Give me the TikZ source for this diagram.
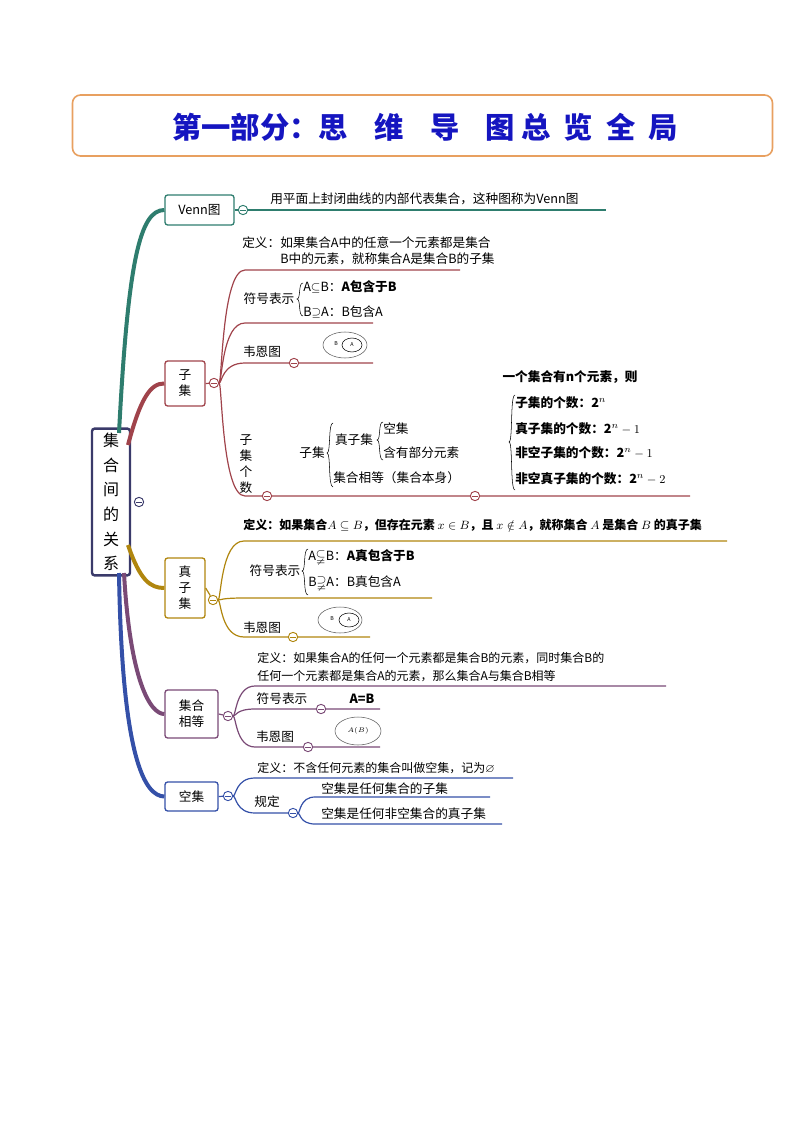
\documentclass[tikz,border=0pt]{standalone}
\usepackage{fontspec}
\setmainfont{Noto Sans CJK SC}
\usepackage{amsmath,amssymb}
\begin{document}
\begin{tikzpicture}[x=0.75pt,y=-0.75pt,
 txt/.style={inner sep=0pt,font=\fontsize{9.5}{12}\selectfont},
 btxt/.style={inner sep=0pt,font=\fontsize{9.5}{12}\selectfont\bfseries},
 bx/.style={draw,line width=1pt,rounded corners=2pt,inner sep=0pt,font=\fontsize{9.5}{12}\selectfont},
 cc/.style={circle,draw,fill=white,inner sep=0pt,minimum size=7pt,line width=0.7pt,path picture={\draw[line width=0.7pt] ([xshift=-2pt]path picture bounding box.center)--([xshift=2pt]path picture bounding box.center);}},
 br/.style={line width=0.9pt},
 trunk/.style={line width=3pt}]
\definecolor{teal}{HTML}{2E7D6E}\definecolor{mar}{HTML}{A0434B}\definecolor{gold}{HTML}{B0860E}
\definecolor{pur}{HTML}{7A4A76}\definecolor{blu}{HTML}{3450A8}\definecolor{navy}{HTML}{3A3A6A}
\definecolor{tb}{HTML}{1515C0}\definecolor{org}{HTML}{E8A060}
\useasboundingbox (0,0) rectangle (794,1123);
% title
\node[draw=org,line width=1.2pt,rounded corners=6pt,minimum width=700*0.75pt,minimum height=61*0.75pt] (title) at (422.5,125.5) {};
\node[text=tb,font=\fontsize{22}{24}\selectfont\bfseries] (tt) at (425,127) {第一部分：思\hspace{0.9em}维\hspace{0.9em}导\hspace{0.9em}图\hspace{0.2em}总\hspace{0.45em}览\hspace{0.45em}全\hspace{0.45em}局};
% root
\node[draw=navy,line width=1.8pt,rounded corners=2pt,minimum width=38*0.75pt,minimum height=139*0.75pt,align=center,font=\fontsize{12}{18.5}\selectfont] (root) at (111,502) {集\\合\\间\\的\\关\\系};
\node[cc,draw=navy] (rc) at (139,502) {};
% boxes
\node[bx,draw=teal,minimum width=69*0.75pt,minimum height=30*0.75pt] (venn) at (199.5,210) {Venn图};
\node[bx,draw=mar,minimum width=40*0.75pt,minimum height=45*0.75pt,align=center] (zj) at (185,383.5) {子\\集};
\node[bx,draw=gold,minimum width=40*0.75pt,minimum height=60*0.75pt,align=center] (zzj) at (185,588) {真\\子\\集};
\node[bx,draw=pur,minimum width=53*0.75pt,minimum height=48*0.75pt,align=center] (xd) at (191.5,714) {集合\\相等};
\node[bx,draw=blu,minimum width=53*0.75pt,minimum height=29*0.75pt] (kj) at (191.5,796.5) {空集};
% trunks
\draw[trunk,teal] (119,433) .. controls (128,260) and (140,210) .. (venn.west);
\draw[trunk,mar] (128,445) .. controls (140,400) and (150,383) .. (zj.west);
\draw[trunk,gold] (128,545) .. controls (140,580) and (150,588) .. (zzj.west);
\draw[trunk,pur] (124,573) .. controls (130,680) and (150,714) .. (xd.west);
\draw[trunk,blu] (119,573) .. controls (122,760) and (145,796) .. (kj.west);
% Venn
\node[cc,draw=teal] (vc) at (243,210) {};
\draw[br,teal] (venn.east)--(vc); \coordinate (ve) at (606,210);
\draw[br,teal] (vc)--(ve);
\node[txt,anchor=west] (vt) at (270,199) {用平面上封闭曲线的内部代表集合，这种图称为Venn图};
% 子集
\node[cc,draw=mar] (zc) at (214,383) {};
\draw[br,mar] (zj.east)--(zc);
\coordinate (z1) at (460,270);\coordinate (z2) at (373,323);\coordinate (z3) at (373,363);\coordinate (z4) at (690,496);
\draw[br,mar] (zc) .. controls (222,383) and (222,270) .. (245,270)--(z1);
\draw[br,mar] (zc) .. controls (222,383) and (222,323) .. (245,323)--(z2);
\draw[br,mar] (zc) .. controls (222,383) and (222,363) .. (245,363)--(z3);
\draw[br,mar] (zc) .. controls (222,383) and (222,496) .. (245,496)--(z4);
\node[cc,draw=mar] at (294,363) {};\node[cc,draw=mar] at (267,496) {};\node[cc,draw=mar] at (475,496) {};
\node[txt,anchor=west,align=left] at (242,251) {定义：如果集合A中的任意一个元素都是集合\\\hspace{3em}B中的元素，就称集合A是集合B的子集};
\node[txt] at (269,299) {符号表示};
\draw[thin] (303,283) .. controls (298,283) and (301,299) .. (297,299) .. controls (301,299) and (298,316) .. (303,316);
\node[txt,anchor=west] at (303,287) {A$\subseteq$B：\textbf{A包含于B}};
\node[txt,anchor=west] at (303,312) {B$\supseteq$A：B包含A};
\node[txt] at (262,352) {韦恩图};
\draw[gray!70!black,thin] (345,345) ellipse (22 and 13); \draw[thin] (352,345) ellipse (10 and 7);
\node[txt,font=\fontsize{4}{4}\selectfont\itshape] at (336,344) {B};\node[txt,font=\fontsize{4}{4}\selectfont\itshape] at (352,345) {A};
\node[txt,align=center] at (246,464) {子\\集\\个\\数};
\node[txt] at (312,453) {子集};
\draw[thin] (333,423) .. controls (328,423) and (331,453) .. (327,453) .. controls (331,453) and (328,487) .. (333,487);
\node[txt] at (354,440) {真子集};
\draw[thin] (383,422) .. controls (378,422) and (381,440) .. (377,440) .. controls (381,440) and (378,460) .. (383,460);
\node[txt,anchor=west] at (383,429) {空集};
\node[txt,anchor=west] at (383,453) {含有部分元素};
\node[txt,anchor=west] at (333,478) {集合相等（集合本身）};
\node[btxt] at (570,377) {一个集合有n个元素，则};
\draw[thin] (515,395) .. controls (510,395) and (513,442) .. (509,442) .. controls (513,442) and (510,490) .. (515,490);
\node[btxt,anchor=west] at (515,403) {子集的个数：2$^{n}$};
\node[btxt,anchor=west] at (515,429) {真子集的个数：2$^{n}-1$};
\node[btxt,anchor=west] at (515,453) {非空子集的个数：2$^{n}-1$};
\node[btxt,anchor=west] at (515,479) {非空真子集的个数：2$^{n}-2$};
% 真子集
\node[cc,draw=gold] (gc) at (213,600) {};
\draw[br,gold] (zzj.east)--(gc);
\coordinate (g1) at (727,541);\coordinate (g2) at (432,598);\coordinate (g3) at (370,637);
\draw[br,gold] (gc) .. controls (221,600) and (221,541) .. (244,541)--(g1);
\draw[br,gold] (gc) .. controls (221,600) and (221,598) .. (244,598)--(g2);
\draw[br,gold] (gc) .. controls (221,600) and (221,637) .. (244,637)--(g3);
\node[cc,draw=gold] at (293,637) {};
\node[btxt,anchor=west,font=\fontsize{9}{11}\selectfont\bfseries] at (243,525) {定义：如果集合$A\subseteq B$，但存在元素 $x\in B$，且 $x\notin A$，就称集合 $A$ 是集合 $B$ 的真子集};
\node[txt] at (275,571) {符号表示};
\draw[thin] (308,549) .. controls (303,549) and (306,571) .. (302,571) .. controls (306,571) and (303,595) .. (308,595);
\node[txt,anchor=west] at (308,557) {A$\subsetneqq$B：\textbf{A真包含于B}};
\node[txt,anchor=west] at (308,583) {B$\supsetneqq$A：B真包含A};
\node[txt] at (262,628) {韦恩图};
\draw[gray!70!black,thin] (340,620) ellipse (22 and 13); \draw[thin] (349,620) ellipse (10 and 7);
\node[txt,font=\fontsize{4}{4}\selectfont\itshape] at (332,619) {B};\node[txt,font=\fontsize{4}{4}\selectfont\itshape] at (349,620) {A};
% 集合相等
\node[cc,draw=pur] (pc) at (228,716) {};
\draw[br,pur] (xd.east)--(pc);
\coordinate (p1) at (666,686);\coordinate (p2) at (380,709);\coordinate (p3) at (380,747);
\draw[br,pur] (pc) .. controls (236,716) and (236,686) .. (255,686)--(p1);
\draw[br,pur] (pc) .. controls (236,716) and (236,709) .. (255,709)--(p2);
\draw[br,pur] (pc) .. controls (236,716) and (236,747) .. (255,747)--(p3);
\node[cc,draw=pur] at (321,709) {};\node[cc,draw=pur] at (308,747) {};
\node[txt,anchor=west,align=left,font=\fontsize{9}{14}\selectfont] at (257,667) {定义：如果集合A的任何一个元素都是集合B的元素，同时集合B的\\任何一个元素都是集合A的元素，那么集合A与集合B相等};
\node[txt] at (282,699) {符号表示};
\node[btxt] at (362,699) {A=B};
\node[txt] at (275,737) {韦恩图};
\draw[gray!70!black,thin] (358,731) ellipse (23 and 14);
\node[txt,font=\fontsize{4.5}{5}\selectfont] at (358,731) {$A(B)$};
% 空集
\node[cc,draw=blu] (bc) at (228,796) {};
\draw[br,blu] (kj.east)--(bc);
\coordinate (b1) at (513,778);\coordinate (b2) at (490,797);\coordinate (b3) at (502,824);
\node[cc,draw=blu] (bc2) at (293,813) {};
\draw[br,blu] (bc) .. controls (236,796) and (236,778) .. (255,778)--(b1);
\draw[br,blu] (bc) .. controls (236,796) and (236,813) .. (255,813)--(bc2);
\draw[br,blu] (bc2) .. controls (300,813) and (300,797) .. (315,797)--(b2);
\draw[br,blu] (bc2) .. controls (300,813) and (300,824) .. (315,824)--(b3);
\node[txt,anchor=west,font=\fontsize{9}{11}\selectfont] at (257,768) {定义：不含任何元素的集合叫做空集，记为$\varnothing$};
\node[txt] at (267,802) {规定};
\node[txt,anchor=west] at (321,789) {空集是任何集合的子集};
\node[txt,anchor=west] at (321,814) {空集是任何非空集合的真子集};
\end{tikzpicture}
\end{document}
